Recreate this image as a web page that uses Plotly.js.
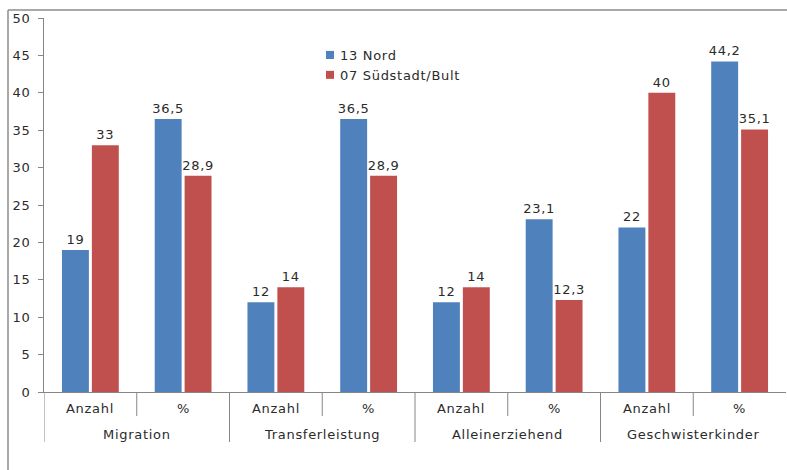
<!DOCTYPE html>
<html>
<head>
<meta charset="utf-8">
<script src="https://cdn.plot.ly/plotly-3.0.1.min.js"></script>
<style>
  html, body { margin: 0; padding: 0; background: #fff; }
  #chart { width: 787px; height: 470px; }
  /* slightly tracked lettering, as in the office-style chart
     (global so that Plotly's text measuring sees it too) */
  text { letter-spacing: 0.7px; }
  /* smaller square legend keys sitting close to their labels */
  #chart .legend .legendpoints path { transform: translate(30px, 0) scale(0.67); }
</style>
</head>
<body>
<div id="chart"></div>
<script>
// Kategorien (zwei Ebenen) und Werte je Stadtteil
const groups = ["Migration", "Transferleistung", "Alleinerziehend", "Geschwisterkinder"];
const subLabels = ["Anzahl", "%"];
const seriesNames = ["13 Nord", "07 Südstadt/Bult"];
const nordValues = [19, 36.5, 12, 36.5, 12, 23.1, 22, 44.2];
const suedValues = [33, 28.9, 14, 28.9, 14, 12.3, 40, 35.1];
const yTicks = [0, 5, 10, 15, 20, 25, 30, 35, 40, 45, 50];

const colors = ["#4F81BD", "#C0504D"];
const FONT = "DejaVu Sans";
const TEXT = "#2b2b2b";
const LINE = "#868686";

// one slot per (group, sub-label) pair
const slots = [];
groups.forEach(g => subLabels.forEach(s => slots.push({ group: g, sub: s })));
const xPos = slots.map((_, i) => i);

const fmt = v => String(v).replace(".", ",");

const traces = [nordValues, suedValues].map((vals, k) => ({
  type: "bar",
  name: seriesNames[k],
  legendgroup: "g" + k,
  x: xPos,
  y: vals,
  customdata: slots.map(s => s.group + " – " + s.sub),
  text: vals.map(fmt),
  textposition: "outside",
  constraintext: "none",
  cliponaxis: false,
  textfont: { family: FONT, size: 13, color: TEXT },
  marker: { color: colors[k], line: { width: 0 } },
  hovertemplate: "%{customdata}: %{text}<extra>%{fullData.name}</extra>"
}));

// plot area geometry (px) used to place the category labels and dividers
const W = 787, H = 470;
const M = { l: 44, r: 1, t: 18, b: 78 };
const plotH = H - M.t - M.b;
const plotW = W - M.l - M.r;
const py = px => -(px - (H - M.b)) / plotH;   // pixel row -> paper y
const pxX = px => (px - M.l) / plotW;          // pixel column -> paper x

const shapes = [];
const annotations = [];

// dividers below the axis: short between sub-labels, long between groups
for (let i = 0; i < slots.length; i++) {
  const isGroupEdge = i % subLabels.length === 0;
  shapes.push({
    type: "line", xref: "x", yref: "paper",
    x0: i - 0.5, x1: i - 0.5, y0: 0, y1: py(isGroupEdge ? 442 : 416),
    line: { color: LINE, width: 1 }
  });
}

// inner labels
slots.forEach((s, i) => {
  annotations.push({
    xref: "x", yref: "paper", x: i, y: py(408),
    text: s.sub, showarrow: false, xanchor: "center", yanchor: "middle",
    font: { family: FONT, size: 13, color: TEXT }
  });
});

// group labels
groups.forEach((g, gi) => {
  annotations.push({
    xref: "x", yref: "paper", x: gi * subLabels.length + (subLabels.length - 1) / 2, y: py(434),
    text: g, showarrow: false, xanchor: "center", yanchor: "middle",
    font: { family: FONT, size: 13, color: TEXT }
  });
});

// chart frame (top and left edges)
shapes.push({
  type: "line", xref: "paper", yref: "paper",
  x0: pxX(8), x1: pxX(800), y0: py(10), y1: py(10),
  line: { color: "#8C8C8C", width: 1.5 }
});
shapes.push({
  type: "line", xref: "paper", yref: "paper",
  x0: pxX(8), x1: pxX(8), y0: py(10), y1: py(480),
  line: { color: "#8C8C8C", width: 1.5 }
});

const layout = {
  width: W, height: H,
  margin: M,
  paper_bgcolor: "#ffffff",
  plot_bgcolor: "#ffffff",
  font: { family: FONT, size: 13, color: TEXT },
  separators: ",.",
  barmode: "group",
  bargap: 0.355,
  bargroupgap: 0.1,
  showlegend: true,
  legend: {
    x: pxX(300), xanchor: "left",
    y: py(40), yanchor: "top",
    bgcolor: "rgba(0,0,0,0)",
    font: { family: FONT, size: 13, color: TEXT },
    traceorder: "normal",
    tracegroupgap: 3,
    itemclick: false, itemdoubleclick: false
  },
  xaxis: {
    type: "linear",
    range: [-0.5, slots.length - 0.5],
    showticklabels: false,
    ticks: "",
    showgrid: false,
    zeroline: false,
    showline: true,
    linecolor: LINE,
    linewidth: 1,
    fixedrange: true
  },
  yaxis: {
    range: [0, 50],
    tickvals: yTicks,
    ticktext: yTicks.map(String),
    ticks: "outside",
    ticklen: 5,
    tickcolor: LINE,
    ticklabelstandoff: 5,
    tickfont: { family: FONT, size: 13, color: TEXT },
    showgrid: false,
    zeroline: false,
    showline: true,
    linecolor: LINE,
    linewidth: 1,
    fixedrange: true
  },
  shapes: shapes,
  annotations: annotations
};

Plotly.newPlot("chart", traces, layout, { displayModeBar: false });
</script>
</body>
</html>
